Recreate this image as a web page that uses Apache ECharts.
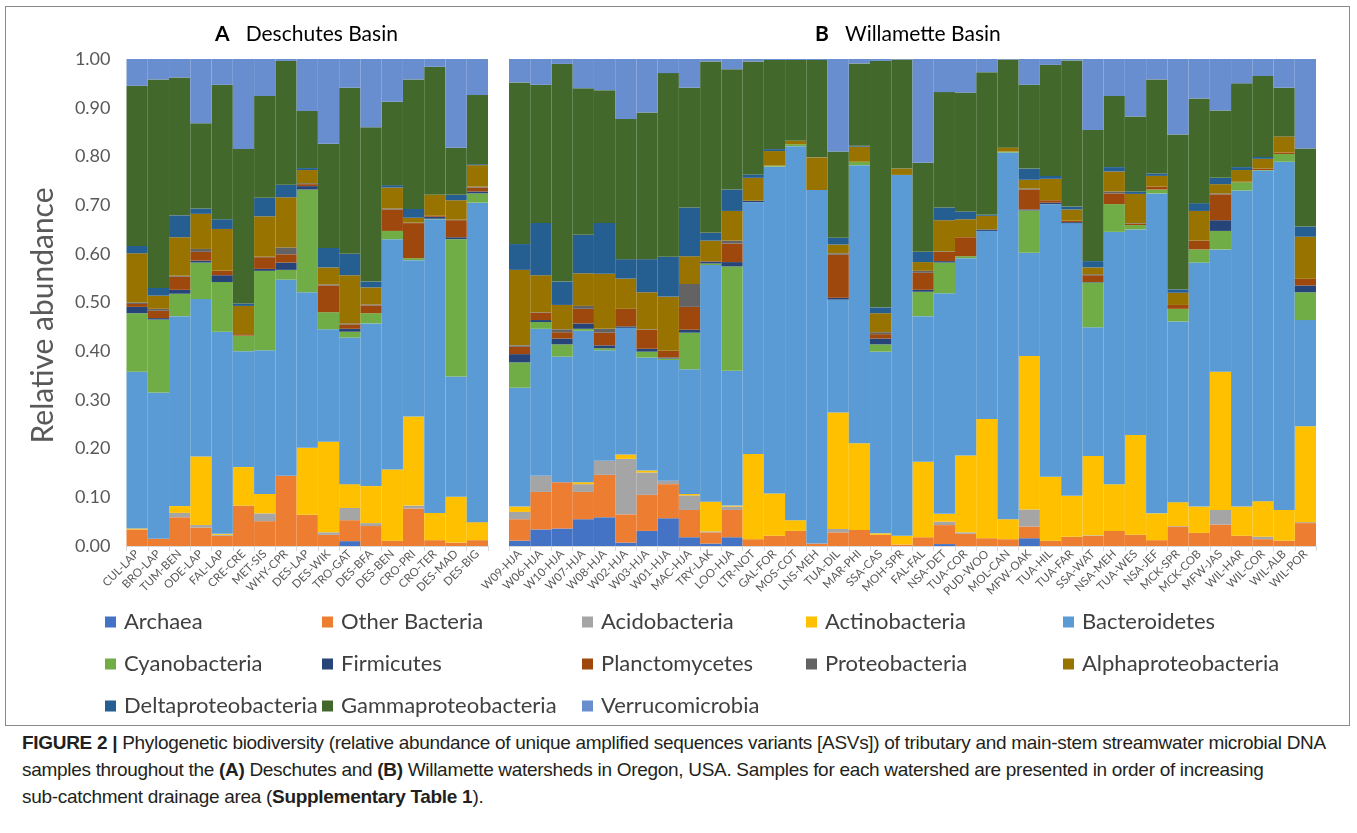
<!DOCTYPE html>
<html>
<head>
<meta charset="utf-8" />
<title>Figure 2</title>
<script src="https://cdn.jsdelivr.net/npm/echarts@6/dist/echarts.min.js"></script>
<style>
  html, body { margin: 0; padding: 0; background: #fff; }
  .frame { position: absolute; left: 5px; top: 6px; width: 1345px; height: 720px; border: 1px solid #8a8a8a; box-sizing: border-box; }
  #container { position: absolute; left: 0; top: 0; width: 1357px; height: 728px; }
  .caption { position: absolute; left: 22px; top: 729px; width: 1330px; font-family: "Liberation Sans", Arial, sans-serif;
             font-size: 19px; line-height: 27px; color: #231f20; white-space: nowrap; letter-spacing: -0.3px; }
  .caption b { font-weight: bold; }
</style>
</head>
<body>
<div class="frame"></div>
<div id="container"></div>
<div class="caption">
  <b>FIGURE 2 |</b> Phylogenetic biodiversity (relative abundance of unique amplified sequences variants [ASVs]) of tributary and main-stem streamwater microbial DNA<br/>
  samples throughout the <b>(A)</b> Deschutes and <b>(B)</b> Willamette watersheds in Oregon, USA. Samples for each watershed are presented in order of increasing<br/>
  sub-catchment drainage area (<b>Supplementary Table 1</b>).
</div>
<script type="text/javascript">
    // sample names
    var catsA = ['CUL-LAP','BRO-LAP','TUM-BEN','ODE-LAP','FAL-LAP','CRE-CRE','MET-SIS','WHY-CPR','DES-LAP','DES-WIK',
        'TRO-GAT','DES-BFA','DES-BEN','CRO-PRI','CRO-TER','DES-MAD','DES-BIG'];
    var catsB = ['W09-HJA','W06-HJA','W10-HJA','W07-HJA','W08-HJA','W02-HJA','W03-HJA','W01-HJA','MAC-HJA','TRY-LAK',
        'LOO-HJA','LTR-NOT','GAL-FOR','MOS-COT','LNS-MEH','TUA-DIL','MAR-PHI','SSA-CAS','MOH-SPR','FAL-FAL',
        'NSA-DET','TUA-COR','PUD-WOO','MOL-CAN','MFW-OAK','TUA-HIL','TUA-FAR','SSA-WAT','NSA-MEH','TUA-WES',
        'NSA-JEF','MCK-SPR','MCK-COB','MFW-JAS','WIL-HAR','WIL-COR','WIL-ALB','WIL-POR'];

    var taxa = ['Archaea','Other Bacteria','Acidobacteria','Actinobacteria','Bacteroidetes','Cyanobacteria','Firmicutes',
        'Planctomycetes','Proteobacteria','Alphaproteobacteria','Deltaproteobacteria','Gammaproteobacteria','Verrucomicrobia'];

    // Deschutes (A)
    var archaeaA  = [0,0,0,0,0,0,0,0,0,0,0.010,0,0,0,0,0,0];
    var otherA    = [0.034,0.015,0.059,0.038,0.021,0.083,0.051,0.144,0.064,0.023,0.043,0.041,0.011,0.077,0.012,0.007,0.012];
    var acidoA    = [0,0,0.009,0.005,0.002,0,0.016,0,0,0.005,0.025,0.006,0,0.006,0,0,0];
    var actinoA   = [0.002,0,0.014,0.141,0.002,0.079,0.040,0,0.138,0.186,0.049,0.076,0.146,0.183,0.056,0.094,0.037];
    var bacteroA  = [0.322,0.300,0.390,0.323,0.415,0.238,0.295,0.403,0.319,0.231,0.301,0.334,0.473,0.321,0.603,0.247,0.656];
    var cyanoA    = [0.120,0.150,0.046,0.075,0.102,0.032,0.163,0.020,0.211,0.035,0.012,0.021,0.017,0.004,0.001,0.282,0.019];
    var firmA     = [0.013,0.003,0.008,0.004,0.014,0,0.004,0.015,0.007,0,0.006,0,0,0,0.004,0.004,0.004];
    var planctoA  = [0.006,0.015,0.027,0.018,0.009,0.003,0.024,0.017,0.004,0.055,0.009,0.016,0.044,0.072,0.002,0.035,0.008];
    var proteoA   = [0.003,0.004,0.002,0.006,0,0,0.001,0.014,0.002,0.002,0.002,0.002,0.002,0.001,0,0.001,0.002];
    var alphaA    = [0.101,0.027,0.079,0.072,0.086,0.058,0.083,0.103,0.027,0.035,0.099,0.035,0.043,0.010,0.043,0.040,0.044];
    var deltaA    = [0.015,0.016,0.045,0.011,0.020,0.005,0.038,0.026,0.004,0.040,0.044,0.012,0.005,0.018,0,0.011,0.002];
    var gammaA    = [0.329,0.428,0.283,0.175,0.276,0.317,0.209,0.254,0.117,0.214,0.341,0.317,0.171,0.266,0.263,0.097,0.142];
    var verrucoA  = [0.055,0.042,0.038,0.132,0.053,0.185,0.076,0.004,0.107,0.174,0.059,0.140,0.088,0.042,0.016,0.182,0.074];

    // Willamette (B)
    var archaeaB  = [0.011,0.034,0.036,0.055,0.059,0.007,0.031,0.057,0.018,0.005,0.018,0,0,0,0,0,0,0,0,0,
        0.004,0,0,0,0.016,0,0,0,0,0,0,0,0,0,0,0,0,0];
    var otherB    = [0.044,0.077,0.095,0.056,0.087,0.058,0.074,0.070,0.056,0.023,0.056,0.014,0.021,0.031,0.005,0.028,0.033,0.023,0.003,0.018,
        0.039,0.025,0.016,0.014,0.024,0.011,0.019,0.021,0.031,0.023,0.012,0.040,0.027,0.044,0.021,0.014,0.011,0.047];
    var acidoB    = [0.015,0.033,0,0.016,0.029,0.114,0.046,0.007,0.030,0.002,0.007,0,0,0,0,0.007,0,0,0,0,
        0.007,0.003,0,0,0.035,0,0,0.001,0,0,0,0.001,0,0.030,0,0.005,0,0.002];
    var actinoB   = [0.011,0,0,0.004,0,0.009,0.004,0,0.003,0.061,0.002,0.175,0.087,0.022,0,0.239,0.178,0.003,0.018,0.155,
        0.016,0.158,0.245,0.041,0.315,0.131,0.084,0.163,0.096,0.205,0.055,0.049,0.054,0.284,0.060,0.073,0.063,0.197];
    var bacteroB  = [0.244,0.302,0.258,0.311,0.227,0.260,0.232,0.248,0.256,0.486,0.277,0.517,0.671,0.768,0.726,0.232,0.571,0.373,0.741,0.299,
        0.453,0.405,0.386,0.753,0.212,0.560,0.560,0.264,0.518,0.422,0.657,0.371,0.501,0.251,0.649,0.679,0.715,0.218];
    var cyanoB    = [0.052,0.014,0.025,0.004,0.004,0,0.012,0.003,0.075,0.003,0.214,0,0.002,0.004,0,0,0.007,0.015,0,0.050,
        0.063,0.004,0,0.002,0.087,0,0,0.092,0.057,0.009,0.008,0.026,0.027,0.038,0.017,0.001,0.016,0.057];
    var firmB     = [0.017,0.004,0.012,0.011,0.006,0.003,0.006,0.002,0.006,0.004,0.009,0.003,0,0,0,0.004,0,0.012,0,0.004,
        0.003,0,0.003,0,0.002,0.003,0.002,0.001,0,0,0,0,0,0.022,0,0,0,0.014];
    var planctoB  = [0.015,0.015,0.013,0.030,0.026,0.036,0.039,0.014,0.047,0.001,0.038,0,0,0,0,0.088,0,0.009,0,0.035,
        0.019,0.039,0,0,0.041,0.005,0.003,0.014,0.022,0.003,0.006,0.008,0.018,0.053,0.001,0.003,0.003,0.014];
    var proteoB   = [0.003,0.001,0.006,0.006,0.008,0,0.001,0,0.047,0,0.006,0,0,0,0,0.003,0,0.004,0,0.004,
        0.001,0,0,0,0.002,0,0,0.002,0.004,0.001,0,0,0,0.002,0,0,0,0];
    var alphaB    = [0.155,0.076,0.050,0.067,0.113,0.062,0.076,0.111,0.057,0.042,0.061,0.047,0.030,0.007,0.067,0.018,0.031,0.039,0.013,0.018,
        0.064,0.037,0.028,0.008,0.018,0.044,0.023,0.014,0.041,0.060,0.022,0.025,0.061,0.019,0.024,0.020,0.033,0.086];
    var deltaB    = [0.053,0.107,0.048,0.079,0.104,0.040,0.068,0.082,0.100,0.016,0.044,0.007,0.004,0,0,0.014,0.002,0.012,0,0.021,
        0.026,0.016,0.002,0,0.023,0.006,0.006,0.013,0.009,0.005,0.005,0.007,0.016,0.013,0.006,0.004,0,0.021];
    var gammaB    = [0.332,0.284,0.447,0.301,0.273,0.288,0.301,0.377,0.246,0.352,0.247,0.232,0.183,0.166,0.200,0.177,0.169,0.506,0.224,0.183,
        0.237,0.244,0.293,0.181,0.172,0.228,0.300,0.269,0.146,0.154,0.193,0.318,0.215,0.138,0.172,0.166,0.100,0.160];
    var verrucoB  = [0.048,0.053,0.010,0.060,0.064,0.123,0.110,0.029,0.059,0.005,0.021,0.005,0.002,0.002,0.002,0.190,0.009,0.004,0.001,0.213,
        0.068,0.069,0.027,0.001,0.053,0.012,0.003,0.146,0.076,0.118,0.042,0.155,0.081,0.106,0.050,0.035,0.059,0.184];

    var yTicks = ['0.00','0.10','0.20','0.30','0.40','0.50','0.60','0.70','0.80','0.90','1.00'];

    var dataA = [archaeaA,otherA,acidoA,actinoA,bacteroA,cyanoA,firmA,planctoA,proteoA,alphaA,deltaA,gammaA,verrucoA];
    var dataB = [archaeaB,otherB,acidoB,actinoB,bacteroB,cyanoB,firmB,planctoB,proteoB,alphaB,deltaB,gammaB,verrucoB];
    var colors = ['#4472C4','#ED7D31','#A5A5A5','#FFC000','#5B9BD5','#70AD47','#264478',
        '#9E480E','#636363','#997300','#255E91','#43682B','#698ED0'];

    var font = 'Lato, "Open Sans", sans-serif';
    var myChart = echarts.init(document.getElementById('container'));

    var series = [];
    taxa.forEach(function (name, i) {
        series.push({ name: name, type: 'bar', stack: 'A', xAxisIndex: 0, yAxisIndex: 0, data: dataA[i],
            barCategoryGap: '0%', itemStyle: { color: colors[i] }, emphasis: { disabled: true } });
        series.push({ name: name, type: 'bar', stack: 'B', xAxisIndex: 1, yAxisIndex: 1, data: dataB[i],
            barCategoryGap: '0%', itemStyle: { color: colors[i] }, emphasis: { disabled: true } });
    });

    // legend laid out as 5 columns x 3 rows
    var legX = [105, 322, 582, 806, 1063];
    var legY = [611, 653, 695];
    var legends = taxa.map(function (name, i) {
        return {
            data: [name], left: legX[i % 5], top: legY[Math.floor(i / 5)], padding: 0,
            icon: 'rect', itemWidth: 11, itemHeight: 11, itemGap: 8,
            textStyle: { fontFamily: font, fontSize: 22, color: '#404040', padding: [0, 0, 0, 3] }
        };
    });

    var xAxisBase = function (idx, cats) {
        return {
            type: 'category', gridIndex: idx, data: cats, boundaryGap: true,
            axisLine: { lineStyle: { color: '#d9d9d9', width: 1 } },
            axisTick: { show: true, alignWithLabel: false, length: 5, lineStyle: { color: '#d9d9d9' } },
            axisLabel: { interval: 0, rotate: 45, fontFamily: font, fontSize: 11.5, color: '#595959', margin: 6 }
        };
    };

    var titleStyle = { fontFamily: font, fontSize: 21, color: '#000', fontWeight: 'normal',
        rich: { b: { fontFamily: font, fontSize: 21, fontWeight: 'bold', color: '#000' } } };

    var option = {
        animation: false,
        title: [
            { text: '{b|A}   Deschutes Basin', left: 210, top: 19, textStyle: titleStyle },
            { text: '{b|B}   Willamette Basin', left: 810, top: 19, textStyle: titleStyle }
        ],
        legend: legends,
        grid: [
            { left: 126.5, top: 59, width: 361.5, height: 487 },
            { left: 509, top: 59, width: 807, height: 487 }
        ],
        xAxis: [xAxisBase(0, catsA), xAxisBase(1, catsB)],
        yAxis: [
            { type: 'value', gridIndex: 0, min: 0, max: 1, interval: 0.1,
              name: 'Relative abundance', nameLocation: 'middle', nameGap: 68,
              nameTextStyle: { fontFamily: font, fontSize: 30, color: '#595959', padding: [0, 26, 0, 0] },
              axisLine: { show: false }, axisTick: { show: false }, splitLine: { show: false },
              axisLabel: { fontFamily: font, fontSize: 18, color: '#595959', margin: 16,
                           formatter: function (v) { return yTicks[Math.round(v * 10)]; } } },
            { type: 'value', gridIndex: 1, min: 0, max: 1, interval: 0.1, show: false, splitLine: { show: false } }
        ],
        series: series
    };
    myChart.setOption(option);
</script>
</body>
</html>
